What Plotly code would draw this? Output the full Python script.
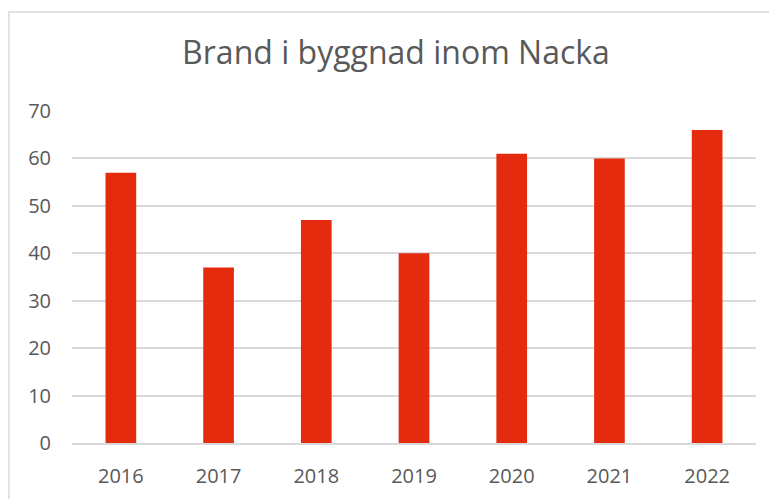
import plotly.graph_objects as go

years = ["2016", "2017", "2018", "2019", "2020", "2021", "2022"]
fires = [57, 37, 47, 40, 61, 60, 66]
y_ticks = [0, 10, 20, 30, 40, 50, 60, 70]

# The page body has an 8px margin; layout numbers below are in figure coordinates.
W, H = 777, 499
L, R, T, B = 64, 29, 103, 64
pw, ph = W - L - R, H - T - B

def px(x):
    return (x - L) / pw

def py(y):
    return (H - B - y) / ph

fig = go.Figure(go.Bar(
    x=years, y=fires,
    marker=dict(color="#E52B0E", line=dict(width=0)),
    hoverinfo="x+y",
))

fig.update_layout(
    width=W, height=H,
    margin=dict(l=L, r=R, t=T, b=B),
    paper_bgcolor="white", plot_bgcolor="white",
    bargap=0.686,
    showlegend=False,
    font=dict(family="Open Sans", color="#595959", size=20),
    title=dict(text="Brand i byggnad inom Nacka", x=388 / W, xanchor="center",
               xref="container", y=1 - 45 / H, yanchor="middle", yref="container",
               font=dict(family="Open Sans", size=32, color="#595959")),
    xaxis=dict(showgrid=False, showline=True, linecolor="#D9D9D9", linewidth=1.5,
               ticks="", ticklabelstandoff=14, tickfont=dict(size=20, color="#595959")),
    yaxis=dict(range=[0, 70], tickvals=y_ticks, showgrid=True, gridcolor="#D9D9D9",
               gridwidth=1.5, zeroline=False, showline=False, ticks="",
               ticklabelstandoff=20, tickfont=dict(size=20, color="#595959")),
    shapes=[dict(type="rect", xref="paper", yref="paper",
                 x0=px(1), x1=px(800), y0=py(520), y1=py(4),
                 line=dict(color="#D9D9D9", width=1.5), fillcolor="rgba(0,0,0,0)",
                 layer="below")],
)

fig.write_html("out.html")
